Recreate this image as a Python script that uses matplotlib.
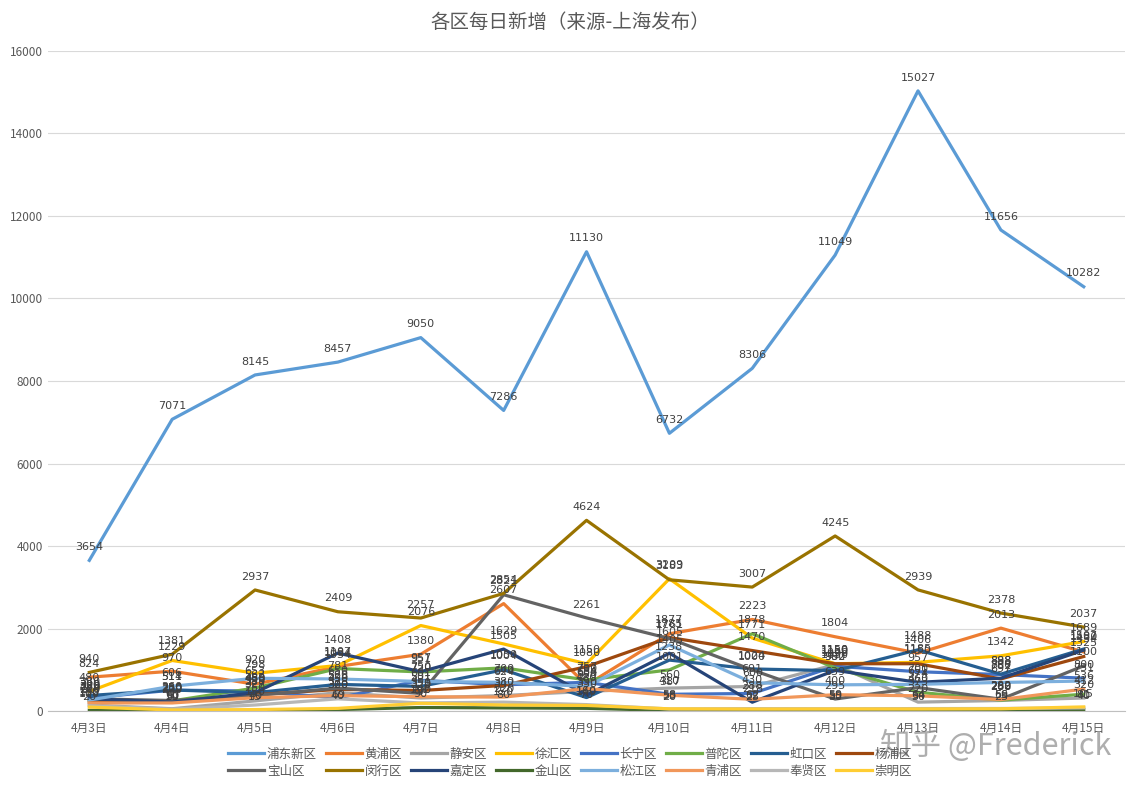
import matplotlib
matplotlib.use('Agg')
import matplotlib.pyplot as plt
import numpy as np

plt.rcParams['font.family'] = ['Noto Sans CJK SC', 'DejaVu Sans']

dates = ['4月3日', '4月4日', '4月5日', '4月6日', '4月7日', '4月8日', '4月9日',
         '4月10日', '4月11日', '4月12日', '4月13日', '4月14日', '4月15日']

districts = ['浦东新区', '黄浦区', '静安区', '徐汇区', '长宁区', '普陀区', '虹口区', '杨浦区',
             '宝山区', '闵行区', '嘉定区', '金山区', '松江区', '青浦区', '奉贤区', '崇明区']

pudong = [3654, 7071, 8145, 8457, 9050, 7286, 11130, 6732, 8306, 11049, 15027, 11656, 10282]
huangpu = [824, 970, 653, 1084, 1380, 2607, 634, 1877, 2223, 1804, 1406, 2013, 1434]
jingan = [150, 60, 250, 450, 320, 380, 480, 560, 600, 1130, 220, 260, 320]
xuhui = [480, 1229, 920, 1107, 2076, 1629, 1150, 3209, 1771, 1150, 1185, 1342, 1689]
changning = [320, 511, 489, 320, 750, 640, 700, 410, 430, 1090, 957, 888, 800]
putuo = [260, 250, 562, 1034, 951, 1050, 757, 1001, 1878, 1050, 460, 268, 412]
hongkou = [380, 514, 450, 650, 601, 1004, 330, 1238, 1024, 982, 1488, 898, 1507]
yangpu = [220, 230, 399, 528, 501, 624, 1080, 1785, 1470, 1150, 1150, 782, 1325]
baoshan = [300, 260, 380, 560, 431, 2821, 2261, 1761, 1000, 295, 574, 290, 1100]
minhang = [940, 1381, 2937, 2409, 2257, 2854, 4624, 3183, 3007, 4245, 2939, 2378, 2037]
jiading = [300, 220, 450, 1408, 957, 1505, 390, 1405, 218, 990, 700, 800, 1480]
jinshan = [20, 10, 15, 40, 90, 80, 70, 20, 25, 30, 30, 25, 40]
songjiang = [270, 606, 798, 781, 720, 700, 600, 1605, 691, 639, 651, 697, 731]
qingpu = [200, 200, 327, 378, 350, 342, 550, 387, 288, 400, 373, 282, 536]
fengxian = [130, 50, 150, 300, 200, 220, 160, 55, 62, 59, 64, 66, 81]
chongming = [100, 30, 40, 69, 192, 150, 140, 58, 52, 55, 54, 59, 105]

series = [pudong, huangpu, jingan, xuhui, changning, putuo, hongkou, yangpu,
          baoshan, minhang, jiading, jinshan, songjiang, qingpu, fengxian, chongming]

colors = ['#5B9BD5', '#ED7D31', '#A5A5A5', '#FFC000', '#4472C4', '#70AD47', '#255E91', '#9E480E',
          '#636363', '#997300', '#264478', '#43682B', '#7CAFDD', '#F1975A', '#B7B7B7', '#FFCD33']

fig = plt.figure(figsize=(11.4, 7.92), dpi=100)
ax = fig.add_axes([0.042, 0.102, 0.945, 0.834])

x = np.arange(len(dates))
lines = []
for name, vals, c in zip(districts, series, colors):
    ln, = ax.plot(x, vals, color=c, lw=2.3, label=name, solid_joinstyle='round')
    lines.append(ln)
    for xi, v in zip(x, vals):
        ax.annotate(str(v), (xi, v), xytext=(0, 6), textcoords='offset points',
                    ha='center', va='bottom', fontsize=8, color='#404040',
                    family=['DejaVu Sans'])

ax.set_xlim(-0.5, len(dates) - 0.5)
ax.set_ylim(0, 16000)
ax.set_yticks(np.arange(0, 16001, 2000))
ax.set_xticks(x)
ax.set_xticklabels(dates, fontsize=8.5, color='#595959')
ax.tick_params(axis='y', labelsize=8.5, labelcolor='#595959', length=0)
ax.tick_params(axis='x', length=0, pad=8)
ax.grid(axis='y', color='#D9D9D9', lw=0.8)
ax.set_axisbelow(True)
for s in ['top', 'right', 'left']:
    ax.spines[s].set_visible(False)
ax.spines['bottom'].set_color('#BFBFBF')

fig.suptitle('各区每日新增（来源-上海发布）', y=0.985, fontsize=14, color='#595959')

# legend fills column by column, so interleave to get two rows of eight
order = [i + 8 * r for i in range(8) for r in range(2)]
leg = fig.legend([lines[i] for i in order], [districts[i] for i in order],
                 loc='center', bbox_to_anchor=(0.5, 0.037), ncol=8, frameon=False,
                 fontsize=9, handlelength=2.9, columnspacing=0.7, handletextpad=0.2,
                 labelspacing=0.3)
for t in leg.get_texts():
    t.set_color('#595959')

fig.text(0.975, 0.058, '知乎 @Frederick', ha='right', va='center', fontsize=22,
         color='#9A9A9A', alpha=0.8)

fig.savefig('out.png', dpi=100)
